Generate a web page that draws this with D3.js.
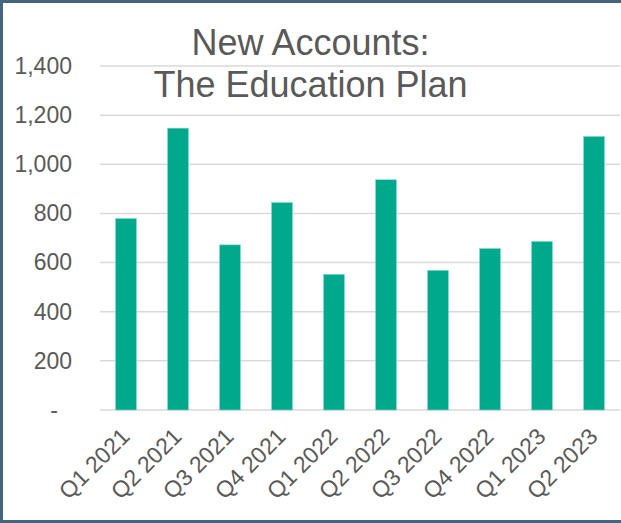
<!DOCTYPE html>
<html>
<head>
<meta charset="utf-8">
<script src="https://d3js.org/d3.v7.min.js"></script>
<style>
  html, body { margin: 0; padding: 0; background: #fff; }
  text { font-family: Arial, "Liberation Sans", sans-serif; fill: #595959; }
</style>
</head>
<body>
<script>
// quarters and new account counts
const quarters = ["Q1 2021", "Q2 2021", "Q3 2021", "Q4 2021", "Q1 2022",
                  "Q2 2022", "Q3 2022", "Q4 2022", "Q1 2023", "Q2 2023"];
const accounts = [779, 1147, 672, 844, 552, 937, 568, 657, 686, 1113];
const yTicks = [0, 200, 400, 600, 800, 1000, 1200, 1400];
const titleLines = ["New Accounts:", "The Education Plan"];

const width = 621, height = 523;
const margin = {top: 66, right: 1, bottom: 113, left: 100};

const svg = d3.select("body").append("svg")
    .attr("width", width)
    .attr("height", height);

// frame
svg.append("rect")
    .attr("x", 1.5).attr("y", 1.5)
    .attr("width", width + 2).attr("height", height - 3)
    .attr("fill", "none")
    .attr("stroke", "#44657f")
    .attr("stroke-width", 3);

const x = d3.scaleBand()
    .domain(quarters)
    .range([margin.left, width - margin.right])
    .paddingInner(0.6)
    .paddingOuter(0.3);

const y = d3.scaleLinear()
    .domain([0, 1400])
    .range([height - margin.bottom, margin.top]);

// gridlines
svg.append("g")
    .selectAll("line")
    .data(yTicks)
    .join("line")
    .attr("x1", margin.left)
    .attr("x2", width - margin.right)
    .attr("y1", d => y(d))
    .attr("y2", d => y(d))
    .attr("stroke", "#d9d9d9")
    .attr("stroke-width", 1.5);

// y axis labels
const fmt = d3.format(",");
const yAxis = svg.append("g")
    .attr("transform", `translate(${margin.left - 28},0)`)
    .call(d3.axisLeft(y).tickValues(yTicks).tickSize(0).tickPadding(0)
        .tickFormat(d => d === 0 ? "-" : fmt(d)));
yAxis.select(".domain").remove();
yAxis.selectAll("text")
    .attr("font-size", 23)
    .attr("fill", "#595959")
    .attr("font-family", "Arial, 'Liberation Sans', sans-serif")
    .attr("dx", d => d === 0 ? -14 : 0);

// bars
svg.append("g")
    .selectAll("rect")
    .data(accounts)
    .join("rect")
    .attr("x", (d, i) => x(quarters[i]))
    .attr("y", d => y(d))
    .attr("width", x.bandwidth())
    .attr("height", d => y(0) - y(d))
    .attr("fill", "#00a98c")
    .attr("stroke", "#7fd6c6")
    .attr("stroke-width", 0.6);

// x axis labels
const xAxis = svg.append("g")
    .attr("transform", `translate(0,${y(0)})`)
    .call(d3.axisBottom(x).tickSize(0).tickPadding(0));
xAxis.select(".domain").remove();
xAxis.selectAll("text")
    .attr("font-size", 23)
    .attr("fill", "#595959")
    .attr("font-family", "Arial, 'Liberation Sans', sans-serif")
    .attr("text-anchor", "end")
    .attr("dy", null)
    .attr("transform", "translate(5,28) rotate(-45)");

// title
svg.append("g")
    .selectAll("text")
    .data(titleLines)
    .join("text")
    .attr("x", width / 2)
    .attr("y", (d, i) => 55 + i * 42)
    .attr("text-anchor", "middle")
    .attr("font-size", 36)
    .text(d => d);
</script>
</body>
</html>
